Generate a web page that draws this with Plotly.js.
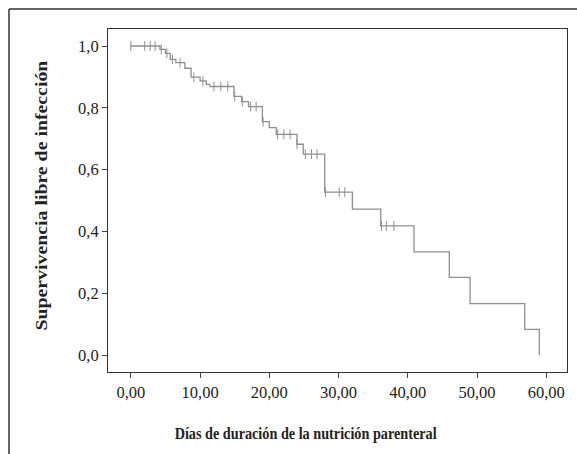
<!DOCTYPE html>
<html>
<head>
<meta charset="utf-8">
<script src="https://cdn.plot.ly/plotly-3.0.1.min.js"></script>
<style>
html,body{margin:0;padding:0;background:#fff;}
#chart{width:577px;height:454px;}
</style>
</head>
<body>
<div id="chart"></div>
<script>
// Kaplan-Meier step curve (time in days, survival free of infection)
const stepTime = [0, 4.2, 5.0, 5.7, 6.5, 7.8, 8.7, 10.0, 10.9, 11.4, 14.9, 16.0, 17.0, 19.0, 20.0, 21.0, 24.0, 24.9, 28.0, 32.0, 36.1, 40.9, 46.0, 49.0, 56.9, 59.0];
const stepSurv = [1.0, 0.989, 0.976, 0.957, 0.946, 0.928, 0.899, 0.887, 0.876, 0.869, 0.837, 0.820, 0.804, 0.755, 0.736, 0.714, 0.682, 0.650, 0.527, 0.472, 0.418, 0.334, 0.251, 0.166, 0.083, 0.0];
// Censored observations
const censTime = [0.0, 2.0, 2.8, 3.5, 4.4, 5.2, 6.0, 7.1, 9.1, 10.4, 12.0, 13.0, 14.0, 15.0, 16.1, 17.3, 18.1, 19.1, 21.2, 22.1, 23.0, 24.0, 25.2, 26.1, 26.9, 28.1, 30.1, 30.9, 36.2, 36.9, 38.0];
const censSurv = [1.0, 1.0, 1.0, 1.0, 0.989, 0.976, 0.957, 0.946, 0.899, 0.887, 0.869, 0.869, 0.869, 0.837, 0.820, 0.804, 0.804, 0.755, 0.714, 0.714, 0.714, 0.682, 0.650, 0.650, 0.650, 0.527, 0.527, 0.527, 0.418, 0.418, 0.418];
// Tick labels and titles
const xTickVals = [0, 10, 20, 30, 40, 50, 60];
const xTickText = ["0,00", "10,00", "20,00", "30,00", "40,00", "50,00", "60,00"];
const yTickVals = [0, 0.2, 0.4, 0.6, 0.8, 1.0];
const yTickText = ["0,0", "0,2", "0,4", "0,6", "0,8", "1,0"];
const xTitle = 'Días de duración de la nutrición parenteral';
const yTitle = 'Supervivencia libre de infección';

const lineColor = '#8f8f8f';
const serif = '"Liberation Serif", "Times New Roman", serif';

const traces = [
  {
    x: stepTime, y: stepSurv, type: 'scatter', mode: 'lines',
    line: {shape: 'hv', color: lineColor, width: 1.3},
    hoverinfo: 'skip', showlegend: false
  },
  {
    x: censTime, y: censSurv, type: 'scatter', mode: 'markers',
    marker: {symbol: 'line-ns', size: 7, line: {color: lineColor, width: 1}},
    hoverinfo: 'skip', showlegend: false
  }
];

const W = 577, H = 454, ml = 108, mr = 10, mt = 29, mb = 82;
const pw = W - ml - mr, ph = H - mt - mb;

const layout = {
  width: W, height: H,
  margin: {l: ml, r: mr, t: mt, b: mb, pad: 0},
  paper_bgcolor: '#fff', plot_bgcolor: '#fff',
  font: {family: serif, color: '#222', size: 16},
  xaxis: {
    range: [-3.3, 63.0], tickvals: xTickVals, ticktext: xTickText,
    showgrid: false, zeroline: false, showline: true, mirror: true,
    linecolor: '#333', linewidth: 1, ticks: 'outside', ticklen: 5, tickcolor: '#444',
    tickfont: {family: serif, size: 16.5, color: '#222'}
  },
  yaxis: {
    range: [-0.055, 1.055], tickvals: yTickVals, ticktext: yTickText,
    showgrid: false, zeroline: false, showline: true, mirror: true,
    linecolor: '#333', linewidth: 1, ticks: 'outside', ticklen: 5, tickcolor: '#444',
    tickfont: {family: serif, size: 16.5, color: '#222'}
  },
  annotations: [
    {text: xTitle, xref: 'paper', yref: 'paper',
     x: (306 - ml) / pw, y: (H - mb - 434) / ph, xanchor: 'center', yanchor: 'middle',
     showarrow: false, font: {family: serif, size: 17, weight: 'bold', color: '#222'}},
    {text: yTitle, xref: 'paper', yref: 'paper', textangle: -90,
     x: (41 - ml) / pw, y: (H - mb - 196) / ph, xanchor: 'center', yanchor: 'middle',
     showarrow: false, font: {family: serif, size: 16.5, weight: 'bold', color: '#222'}}
  ],
  shapes: [
    {type: 'line', xref: 'paper', yref: 'paper',
     x0: (9 - ml) / pw, x1: (9 - ml) / pw, y0: (H - 9 - mb) / ph, y1: -mb / ph - 0.05,
     line: {color: '#333', width: 1.5}},
    {type: 'line', xref: 'paper', yref: 'paper',
     x0: (9 - ml) / pw, x1: (W - ml) / pw + 0.05, y0: (H - 9 - mb) / ph, y1: (H - 9 - mb) / ph,
     line: {color: '#333', width: 1.5}}
  ]
};

// Target rendered lengths of the titles (the reference type is condensed horizontally)
const titleLengths = [262, 270];

Plotly.newPlot('chart', traces, layout, {displayModeBar: false, staticPlot: true}).then(function (gd) {
  const texts = gd.querySelectorAll('.annotation-text');
  texts.forEach(function (t, i) {
    if (titleLengths[i]) {
      t.setAttribute('textLength', titleLengths[i]);
      t.setAttribute('lengthAdjust', 'spacingAndGlyphs');
    }
  });
});
</script>
</body>
</html>
